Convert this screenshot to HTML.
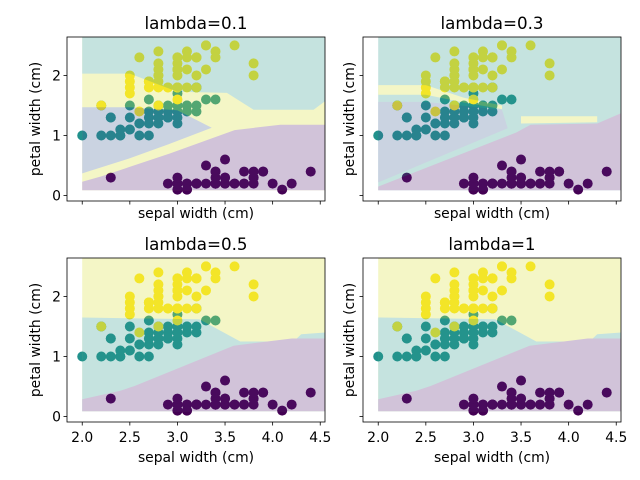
<!DOCTYPE html>
<html><head><meta charset="utf-8"><style>
body{margin:0;background:#fff}
svg{display:block;font-family:"DejaVu Sans","Liberation Sans",sans-serif}
</style></head><body>
<svg id="chart" width="640" height="480" viewBox="0 0 640 480"></svg>
<script>
// Iris data: sepal width, petal width, class
const sepalWidth = [3.5,3.0,3.2,3.1,3.6,3.9,3.4,3.4,2.9,3.1,3.7,3.4,3.0,3.0,4.0,4.4,3.9,3.5,3.8,3.8,3.4,3.7,3.6,3.3,3.4,3.0,3.4,3.5,3.4,3.2,3.1,3.4,4.1,4.2,3.1,3.2,3.5,3.1,3.0,3.4,3.5,2.3,3.2,3.5,3.8,3.0,3.8,3.2,3.7,3.3,
3.2,3.2,3.1,2.3,2.8,2.8,3.3,2.4,2.9,2.7,2.0,3.0,2.2,2.9,2.9,3.1,3.0,2.7,2.2,2.5,3.2,2.8,2.5,2.8,2.9,3.0,2.8,3.0,2.9,2.6,2.4,2.4,2.7,2.7,3.0,3.4,3.1,2.3,3.0,2.5,2.6,3.0,2.6,2.3,2.7,3.0,2.9,2.9,2.5,2.8,
3.3,2.7,3.0,2.9,3.0,3.0,2.5,2.9,2.5,3.6,3.2,2.7,3.0,2.5,2.8,3.2,3.0,3.8,2.6,2.2,3.2,2.8,2.8,2.7,3.3,3.2,2.8,3.0,2.8,3.0,2.8,3.8,2.8,2.8,2.6,3.0,3.4,3.1,3.0,3.1,3.1,3.1,2.7,3.2,3.3,3.0,2.5,3.0,3.4,3.0];
const petalWidth = [0.2,0.2,0.2,0.2,0.2,0.4,0.3,0.2,0.2,0.1,0.2,0.2,0.1,0.1,0.2,0.4,0.4,0.3,0.3,0.3,0.2,0.4,0.2,0.5,0.2,0.2,0.4,0.2,0.2,0.2,0.2,0.4,0.1,0.2,0.1,0.2,0.2,0.1,0.2,0.2,0.3,0.3,0.2,0.6,0.4,0.3,0.2,0.2,0.2,0.2,
1.4,1.5,1.5,1.3,1.5,1.3,1.6,1.0,1.3,1.4,1.0,1.5,1.0,1.4,1.3,1.4,1.5,1.0,1.5,1.1,1.8,1.3,1.5,1.2,1.3,1.4,1.4,1.7,1.5,1.0,1.1,1.0,1.2,1.6,1.5,1.6,1.5,1.3,1.3,1.3,1.2,1.4,1.2,1.0,1.3,1.2,1.3,1.3,1.1,1.3,
2.5,1.9,2.1,1.8,2.2,2.1,1.7,1.8,1.8,2.5,2.0,1.9,2.1,2.0,2.4,2.3,1.8,2.2,2.3,1.5,2.3,2.0,2.0,1.8,2.1,1.8,1.8,1.8,2.1,1.6,1.9,2.0,2.2,1.5,1.4,2.3,2.4,1.8,1.8,2.1,2.4,2.3,1.9,2.3,2.5,2.3,1.9,2.0,2.3,1.8];
const classes = [];
for (let i = 0; i < 150; i++) classes.push(i < 50 ? 0 : (i < 100 ? 1 : 2));
const lambdas = ["0.1","0.3","0.5","1"];
const xTicks = [2.0,2.5,3.0,3.5,4.0,4.5];
const xTickLabels = ["2.0","2.5","3.0","3.5","4.0","4.5"];
const yTicks = [0,1,2];
const yTickLabels = ["0","1","2"];
const cY = "#dae130", cT = "#2c9b8c", cB = "#3e6094", cP = "#582476";
// decision regions (data coordinates) per panel, drawn in order
const regions = [
  [ {c:cY, p:[[2.0,0.09],[4.55,0.09],[4.55,2.64],[2.0,2.64]]},
    {c:cT, p:[[2.0,2.64],[4.55,2.64],[4.55,1.57],[4.43,1.43],[3.8,1.43],[3.52,1.71],[3.0,1.73],[2.5,2.03],[2.0,2.03]]},
    {c:cB, p:[[2.0,1.47],[2.5,1.47],[3.0,1.42],[3.36,1.13],[2.9,0.85],[2.5,0.62],[2.0,0.37]]},
    {c:cP, p:[[2.0,0.09],[2.0,0.23],[2.2,0.32],[2.92,0.70],[3.6,1.09],[4.08,1.18],[4.55,1.18],[4.55,0.09]]} ],
  [ {c:cT, p:[[2.0,0.09],[4.55,0.09],[4.55,2.64],[2.0,2.64]]},
    {c:cY, p:[[2.0,1.84],[2.5,1.84],[2.9,1.63],[3.3,1.50],[3.3,1.44],[2.9,1.55],[2.5,1.68],[2.0,1.68]]},
    {c:cY, p:[[3.5,1.32],[4.3,1.32],[4.3,1.22],[3.5,1.20]]},
    {c:cB, p:[[2.0,1.56],[2.5,1.56],[3.3,1.43],[3.36,1.12],[2.0,0.22]]},
    {c:cP, p:[[2.0,0.09],[2.0,0.15],[3.45,1.05],[3.6,1.18],[4.3,1.2],[4.55,1.37],[4.55,0.09]]} ],
  [ {c:cY, p:[[2.0,0.09],[4.55,0.09],[4.55,2.64],[2.0,2.64]]},
    {c:cT, p:[[2.0,1.65],[3.23,1.62],[3.66,1.25],[4.22,1.25],[4.3,1.37],[4.55,1.40],[4.55,0.09],[2.0,0.09]]},
    {c:cP, p:[[2.0,0.09],[2.0,0.29],[2.4,0.43],[2.55,0.51],[3.59,1.18],[4.2,1.3],[4.55,1.3],[4.55,0.09]]} ],
  [ {c:cY, p:[[2.0,0.09],[4.55,0.09],[4.55,2.64],[2.0,2.64]]},
    {c:cT, p:[[2.0,1.65],[3.23,1.62],[3.66,1.25],[4.22,1.25],[4.3,1.37],[4.55,1.40],[4.55,0.09],[2.0,0.09]]},
    {c:cP, p:[[2.0,0.09],[2.0,0.29],[2.4,0.43],[2.55,0.51],[3.59,1.18],[4.2,1.3],[4.55,1.3],[4.55,0.09]]} ]
];
const classColors = ["#440154","#21918c","#fde725"];

const NS = "http://www.w3.org/2000/svg";
const svg = document.getElementById("chart");
function mk(tag, attrs, parent) {
  const e = document.createElementNS(NS, tag);
  for (const k in attrs) e.setAttribute(k, attrs[k]);
  (parent || svg).appendChild(e);
  return e;
}
const W = 258, H = 164, XMIN = 1.84, XMAX = 4.55, YMIN = -0.09, YMAX = 2.64;
const lefts = [67, 363], tops = [37, 258];
const FS = 13.9;

for (let k = 0; k < 4; k++) {
  const L = lefts[k % 2], T = tops[Math.floor(k / 2)];
  const sx = v => L + (v - XMIN) / (XMAX - XMIN) * W;
  const sy = v => T + H - (v - YMIN) / (YMAX - YMIN) * H;
  const g = mk("g", {});
  
  
  const cp = mk("clipPath", {id: "cp" + k}, g);
  mk("rect", {x: L, y: T, width: W, height: H}, cp);
  const inner = mk("g", {"clip-path": "url(#cp" + k + ")"}, g);
  const sc = mk("g", {}, inner);
  
  
  for (let i = 0; i < sepalWidth.length; i++) {
    const c = mk("circle", {cx: sx(sepalWidth[i]), cy: sy(petalWidth[i]), r: 5, fill: classColors[classes[i]]}, sc);
    
    
  }
  const rg = mk("g", {opacity: 0.27}, inner);
  
  
  regions[k].forEach(r => {
    const pts = r.p.map(q => sx(q[0]).toFixed(1) + "," + sy(q[1]).toFixed(1)).join(" ");
    const pg = mk("polygon", {points: pts, fill: r.c}, rg);
    
    
  });
  const fr = mk("rect", {x: L, y: T, width: W, height: H, fill: "none", stroke: "#000", "stroke-width": 0.8}, g);
  
  
  xTicks.forEach((v, i) => {
    mk("line", {x1: sx(v), x2: sx(v), y1: T + H, y2: T + H + 3.5, stroke: "#000", "stroke-width": 0.8}, g);
    if (k >= 2) {
      const t = mk("text", {x: sx(v), y: T + H + 20, "font-size": FS, "text-anchor": "middle"}, g);
      t.textContent = xTickLabels[i];
      
      
    }
  });
  yTicks.forEach((v, i) => {
    mk("line", {x1: L, x2: L - 3.5, y1: sy(v), y2: sy(v), stroke: "#000", "stroke-width": 0.8}, g);
    if (k % 2 === 0) {
      const t = mk("text", {x: L - 6, y: sy(v) + 5, "font-size": FS, "text-anchor": "end"}, g);
      t.textContent = yTickLabels[i];
      
      
    }
  });
  const xl = mk("text", {x: L + W / 2, y: T + H + (k >= 2 ? 40 : 17), "font-size": FS, "text-anchor": "middle"}, g);
  xl.textContent = "sepal width (cm)";
  
  
  const yx = L - (k % 2 === 0 ? 27 : 9), yy = T + H / 2;
  const yl = mk("text", {x: yx, y: yy, "font-size": FS, "text-anchor": "middle", transform: "rotate(-90 " + yx + " " + yy + ")"}, g);
  yl.textContent = "petal width (cm)";
  
  
  const tt = mk("text", {x: L + W / 2, y: T - 8, "font-size": 16.7, "text-anchor": "middle"}, g);
  tt.textContent = "lambda=" + lambdas[k];
  
  
}
</script>
</body></html>
